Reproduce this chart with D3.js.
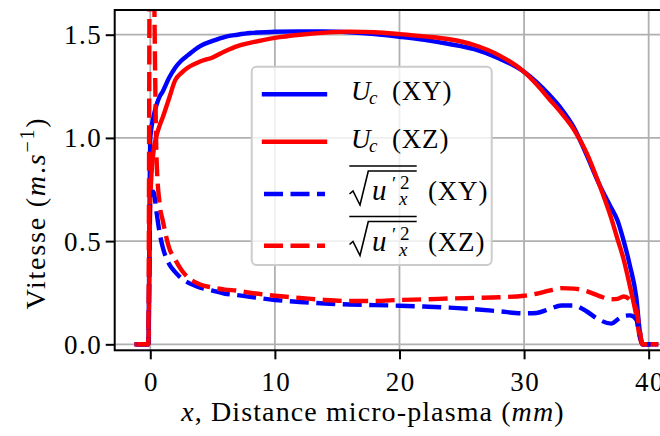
<!DOCTYPE html>
<html>

<head>
    <meta charset="utf-8" />
    <title>Vitesse micro-plasma</title>
    <script src="https://d3js.org/d3.v7.min.js"></script>
    <style>
    body {
      margin: 0;
      background: #fff;
    }
    svg text {
      font-family: "Liberation Serif", "Times New Roman", serif;
      fill: #000;
    }
    </style>
</head>

<body>
    <div id="plot"></div>
    <script>
        // distance x (mm) and the four profiles
        var xs      = [-1.1, -0.16, 0, 0.25, 0.5, 0.75, 1, 1.5, 2, 2.5, 3, 4, 5, 6, 7, 8, 10, 12, 14, 16, 18, 20, 22, 24, 26, 28, 30, 31, 32, 33, 34, 35, 36, 37, 37.5, 38, 38.5, 39, 39.3, 39.5, 40.6];
        var ucXY    = [0, 0, 1.00, 1.10, 1.16, 1.20, 1.225, 1.29, 1.34, 1.375, 1.40, 1.445, 1.47, 1.49, 1.50, 1.508, 1.514, 1.516, 1.516, 1.512, 1.503, 1.49, 1.475, 1.455, 1.43, 1.385, 1.32, 1.27, 1.21, 1.14, 1.05, 0.92, 0.78, 0.66, 0.60, 0.50, 0.38, 0.23, 0.06, 0, 0];
        var ucXZ    = [0, 0, 0.70, 0.93, 1.01, 1.06, 1.10, 1.19, 1.28, 1.315, 1.34, 1.37, 1.39, 1.42, 1.445, 1.46, 1.485, 1.50, 1.51, 1.515, 1.512, 1.503, 1.492, 1.478, 1.45, 1.40, 1.32, 1.26, 1.19, 1.12, 1.04, 0.93, 0.78, 0.61, 0.51, 0.41, 0.28, 0.14, 0.03, 0, 0];
        var urmsXY  = [0, 0, 0.72, 0.74, 0.64, 0.54, 0.47, 0.39, 0.35, 0.32, 0.30, 0.275, 0.26, 0.245, 0.238, 0.23, 0.215, 0.205, 0.198, 0.193, 0.19, 0.187, 0.183, 0.178, 0.17, 0.16, 0.15, 0.152, 0.17, 0.188, 0.188, 0.16, 0.12, 0.10, 0.12, 0.137, 0.14, 0.12, 0.04, 0, 0];
        var urmsXZ  = [0, 0, 2.8, 2.0, 0.90, 0.68, 0.60, 0.47, 0.41, 0.36, 0.325, 0.29, 0.275, 0.265, 0.26, 0.25, 0.235, 0.225, 0.215, 0.21, 0.21, 0.215, 0.218, 0.222, 0.225, 0.228, 0.235, 0.245, 0.26, 0.272, 0.27, 0.258, 0.235, 0.218, 0.22, 0.232, 0.215, 0.17, 0.06, 0, 0];

        var xTicks = [0, 10, 20, 30, 40];
        var yTicks = [0, 0.5, 1.0, 1.5];
        var yTickLabels = ["0.0", "0.5", "1.0", "1.5"];

        var seriesNames = ["UcXY", "UcXZ", "urmsXY", "urmsXZ"];
        var seriesValues = [ucXY, ucXZ, urmsXY, urmsXZ];
        var seriesColors = ["#0000ff", "#ff0000", "#0000ff", "#ff0000"];
        var seriesDashed = [false, false, true, true];
        var seriesPlane = ["(XY)", "(XZ)", "(XY)", "(XZ)"];

        var width = 660,
            height = 436;
        var plot = {left: 114.7, right: 661, top: 10, bottom: 350.3};

        var x = d3.scaleLinear()
            .domain([-2.857, 40.99])
            .range([plot.left, plot.right]);
        var y = d3.scaleLinear()
            .domain([-0.029, 1.6197])
            .range([plot.bottom, plot.top]);

        var svg = d3.select("#plot").append("svg")
            .attr("width", width)
            .attr("height", height);

        svg.append("defs").append("clipPath")
            .attr("id", "clip")
          .append("rect")
            .attr("x", plot.left)
            .attr("y", plot.top)
            .attr("width", plot.right - plot.left)
            .attr("height", plot.bottom - plot.top);

        // grid
        svg.append("g").selectAll("line")
            .data(xTicks)
            .enter().append("line")
            .attr("x1", function(d) { return x(d); })
            .attr("x2", function(d) { return x(d); })
            .attr("y1", plot.top)
            .attr("y2", plot.bottom)
            .style("stroke", "#b0b0b0")
            .style("stroke-width", 1.8);
        svg.append("g").selectAll("line")
            .data(yTicks)
            .enter().append("line")
            .attr("x1", plot.left)
            .attr("x2", plot.right)
            .attr("y1", function(d) { return y(d); })
            .attr("y2", function(d) { return y(d); })
            .style("stroke", "#b0b0b0")
            .style("stroke-width", 1.8);

        // curves
        var line = d3.line()
            .x(function(d) { return x(d[0]); })
            .y(function(d) { return y(d[1]); })
            .curve(d3.curveMonotoneX);

        svg.append("g")
            .attr("clip-path", "url(#clip)")
          .selectAll("path")
            .data(seriesValues)
            .enter().append("path")
            .attr("d", function(vals) {
                return line(xs.map(function(v, i) { return [v, vals[i]]; }));
            })
            .style("fill", "none")
            .style("stroke", function(d, i) { return seriesColors[i]; })
            .style("stroke-width", 4.4)
            .style("stroke-linejoin", "round")
            .style("stroke-linecap", function(d, i) { return seriesDashed[i] ? "butt" : "square"; })
            .style("stroke-dasharray", function(d, i) { return seriesDashed[i] ? "19,7.5" : null; });

        // axes
        var xAxis = d3.axisBottom(x)
            .tickValues(xTicks)
            .tickSize(9)
            .tickPadding(6)
            .tickFormat(d3.format("d"));
        var yAxis = d3.axisLeft(y)
            .tickValues(yTicks)
            .tickSize(9)
            .tickPadding(5)
            .tickFormat(function(d, i) { return yTickLabels[i]; });

        var gx = svg.append("g")
            .attr("transform", "translate(0," + plot.bottom + ")")
            .call(xAxis);
        var gy = svg.append("g")
            .attr("transform", "translate(" + plot.left + ",0)")
            .call(yAxis);
        [gx, gy].forEach(function(g) {
            g.select(".domain").remove();
            g.selectAll(".tick line").style("stroke", "#000").style("stroke-width", 2);
            g.selectAll(".tick text")
                .style("font-family", "'Liberation Serif', serif")
                .style("font-size", "27px")
                .style("letter-spacing", "1.5px")
                .attr("fill", "#000");
        });
        gx.selectAll(".tick text").attr("dy", "0.95em").attr("dx", "0.75px");
        gy.selectAll(".tick text").attr("dy", "0.33em").attr("dx", "1.5px");

        // spines
        svg.append("rect")
            .attr("x", plot.left)
            .attr("y", plot.top)
            .attr("width", plot.right - plot.left)
            .attr("height", plot.bottom - plot.top)
            .style("fill", "none")
            .style("stroke", "#000")
            .style("stroke-width", 2);

        // axis labels
        var xl = svg.append("text")
            .attr("x", 373)
            .attr("y", 421)
            .style("font-size", "28px")
            .style("letter-spacing", "1.1px")
            .style("text-anchor", "middle");
        xl.append("tspan").style("font-style", "italic").text("x");
        xl.append("tspan").text(", Distance micro-plasma (");
        xl.append("tspan").style("font-style", "italic").text("mm");
        xl.append("tspan").text(")");

        var yl = svg.append("text")
            .attr("transform", "translate(45,213) rotate(-90)")
            .style("font-size", "28px")
            .style("letter-spacing", "1.8px")
            .style("text-anchor", "middle");
        yl.append("tspan").text("Vitesse (");
        yl.append("tspan").style("font-style", "italic").text("m");
        yl.append("tspan").text(".");
        yl.append("tspan").style("font-style", "italic").text("s");
        yl.append("tspan").attr("dy", -11).style("font-size", "20px").text("\u22121");
        yl.append("tspan").attr("dy", 11).text(")");

        // legend
        var leg = svg.append("g");
        leg.append("rect")
            .attr("x", 251.7)
            .attr("y", 66.7)
            .attr("width", 240)
            .attr("height", 198.3)
            .attr("rx", 5)
            .style("fill", "#fff")
            .style("fill-opacity", 0.8)
            .style("stroke", "#cccccc")
            .style("stroke-width", 2);

        var rowY = [94.3, 141.7, 194, 245.7];
        var rowBase = [100, 148.3, 200, 250.5];
        var tx = 350;

        seriesNames.forEach(function(name, i) {
            leg.append("line")
                .attr("x1", 264)
                .attr("x2", 325)
                .attr("y1", rowY[i])
                .attr("y2", rowY[i])
                .style("stroke", seriesColors[i])
                .style("stroke-width", 4.4)
                .style("stroke-linecap", seriesDashed[i] ? "butt" : "square")
                .style("stroke-dasharray", seriesDashed[i] ? "19,7.5" : null);

            var b = rowBase[i];
            if (!seriesDashed[i]) {
                leg.append("text").attr("x", tx + 1).attr("y", b)
                    .style("font-size", "27px").style("font-style", "italic").text("U");
                leg.append("text").attr("x", tx + 19).attr("y", b + 4)
                    .style("font-size", "19px").style("font-style", "italic").text("c");
                leg.append("text").attr("x", tx + 42).attr("y", b)
                    .style("font-size", "27px").style("letter-spacing", "0.8px").text(seriesPlane[i]);
            } else {
                // overline + radical
                leg.append("path")
                    .attr("d", "M" + (tx - 0.7) + "," + (b - 34) + "H" + (tx + 66.7))
                    .style("stroke", "#000").style("stroke-width", 1.6).style("fill", "none");
                leg.append("path")
                    .attr("d", "M" + (tx - 0.5) + "," + (b - 6) + "L" + (tx + 3) + "," + (b - 9) +
                        "L" + (tx + 10) + "," + (b + 5) + "L" + (tx + 18.3) + "," + (b - 29) +
                        "H" + (tx + 66.7))
                    .style("stroke", "#000").style("stroke-width", 1.6).style("fill", "none")
                    .style("stroke-linejoin", "miter");
                leg.append("text").attr("x", tx + 22).attr("y", b)
                    .style("font-size", "29px").style("font-style", "italic").text("u");
                leg.append("text").attr("x", tx + 42).attr("y", b - 10)
                    .style("font-size", "19px").text("\u2032");
                leg.append("text").attr("x", tx + 50).attr("y", b - 11)
                    .style("font-size", "19px").text("2");
                leg.append("text").attr("x", tx + 49).attr("y", b + 5)
                    .style("font-size", "19px").style("font-style", "italic").text("x");
                leg.append("text").attr("x", tx + 78).attr("y", b)
                    .style("font-size", "27px").style("letter-spacing", "0.8px").text(seriesPlane[i]);
            }
        });
    </script>
</body>

</html>
